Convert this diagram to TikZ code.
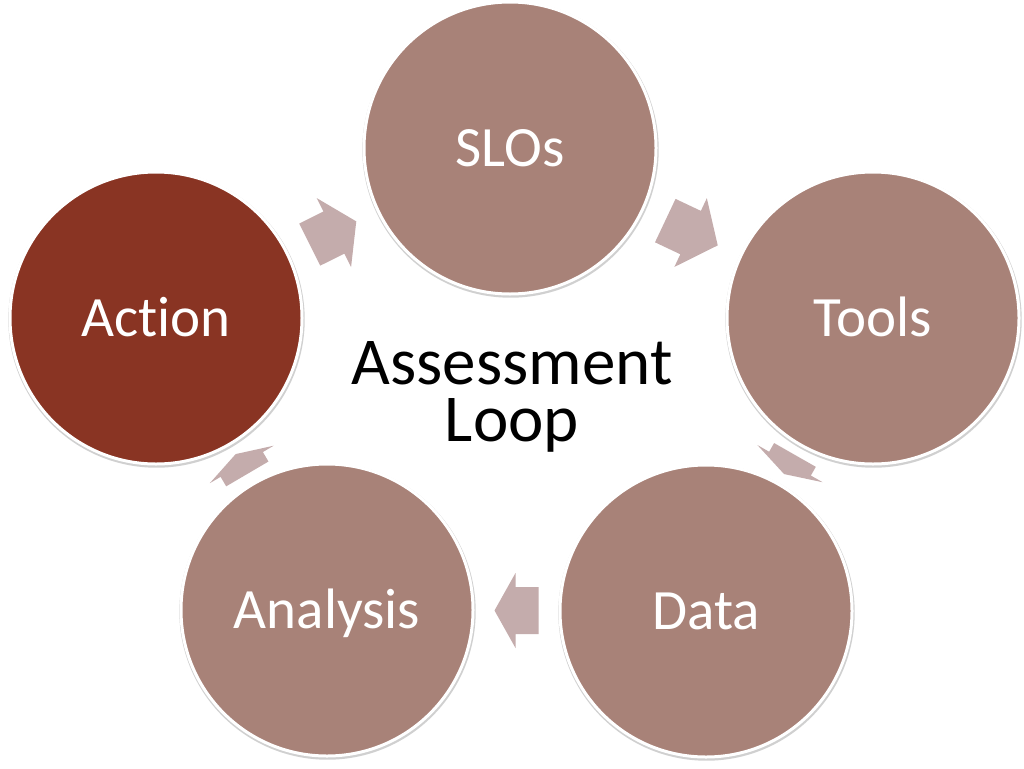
\documentclass[tikz,border=0pt]{standalone}
\usepackage{fontspec}
\setmainfont{Carlito}[Ligatures={NoCommon}]
\usetikzlibrary{calc,shadows}
\definecolor{mauve}{RGB}{168,130,120}
\definecolor{rust}{RGB}{137,52,35}
\definecolor{arrowc}{RGB}{196,172,172}
\pgfdeclarelayer{bgl}
\pgfdeclarelayer{arrl}
\pgfsetlayers{bgl,arrl,main}
\tikzset{
  stage/.style={circle, minimum size=292pt, inner sep=0pt, fill=mauve,
    draw=white, line width=3pt, text=white,
    font=\fontsize{57}{60}\selectfont, text height=37pt, text depth=0pt,
    drop shadow={shadow xshift=0.5pt, shadow yshift=-1.5pt, shadow scale=1.015,
      opacity=0.3, fill=black!60}},
  hotstage/.style={stage, fill=rust},
  arrowfill/.style={fill=arrowc},
  pics/blockarrow/.style n args={4}{code={
    \pgfmathsetmacro\bkTail{-(#1+#2)/2}
    \pgfmathsetmacro\bkBase{\bkTail+#1}
    \pgfmathsetmacro\bkTip{(#1+#2)/2}
    \fill[arrowfill,x=1pt,y=1pt] (\bkTail,-#3) -- (\bkBase,-#3) -- (\bkBase,-#4)
      -- (\bkTip,0) -- (\bkBase,#4) -- (\bkBase,#3) -- (\bkTail,#3) -- cycle;
  }}
}
\begin{document}
\begin{tikzpicture}[x=1pt,y=-1pt]
\begin{pgfonlayer}{bgl}
  \fill[white] (0,0) rectangle (1024,768);
\end{pgfonlayer}
\useasboundingbox (0,0) rectangle (1024,768);

\node[stage]    (slo)   at (510,148) {SLOs};
\node[stage]    (tools) at (873,318) {Tools};
\node[stage]    (data)  at (706,611) {Data};
\node[stage]    (anal)  at (327,610) {Analysis};
\node[hotstage] (act)   at (156,318) {Action};

\node[font=\fontsize{67}{57}\selectfont, align=center, inner sep=0pt]
  (title) at (512,397) {Assessment\\Loop};

\begin{pgfonlayer}{arrl}
  \pic[rotate=26.5]   at ($(act)!0.5!(slo)$)    {blockarrow={27}{25}{23.5}{38.5}};
  \pic[rotate=-25.3]  at ($(slo)!0.5!(tools)$)  {blockarrow={28}{30}{24}{38}};
  \pic[rotate=-119.7] at ($(tools)!0.5!(data)$) {blockarrow={10}{12}{24}{37.5}};
  \pic[rotate=180]    at ($(data)!0.5!(anal)$)  {blockarrow={23}{21}{23.5}{37.5}};
  \pic[rotate=120.4]  at ($(anal)!0.5!(act)$)   {blockarrow={11}{12}{24.5}{37}};
\end{pgfonlayer}
\end{tikzpicture}
\end{document}
